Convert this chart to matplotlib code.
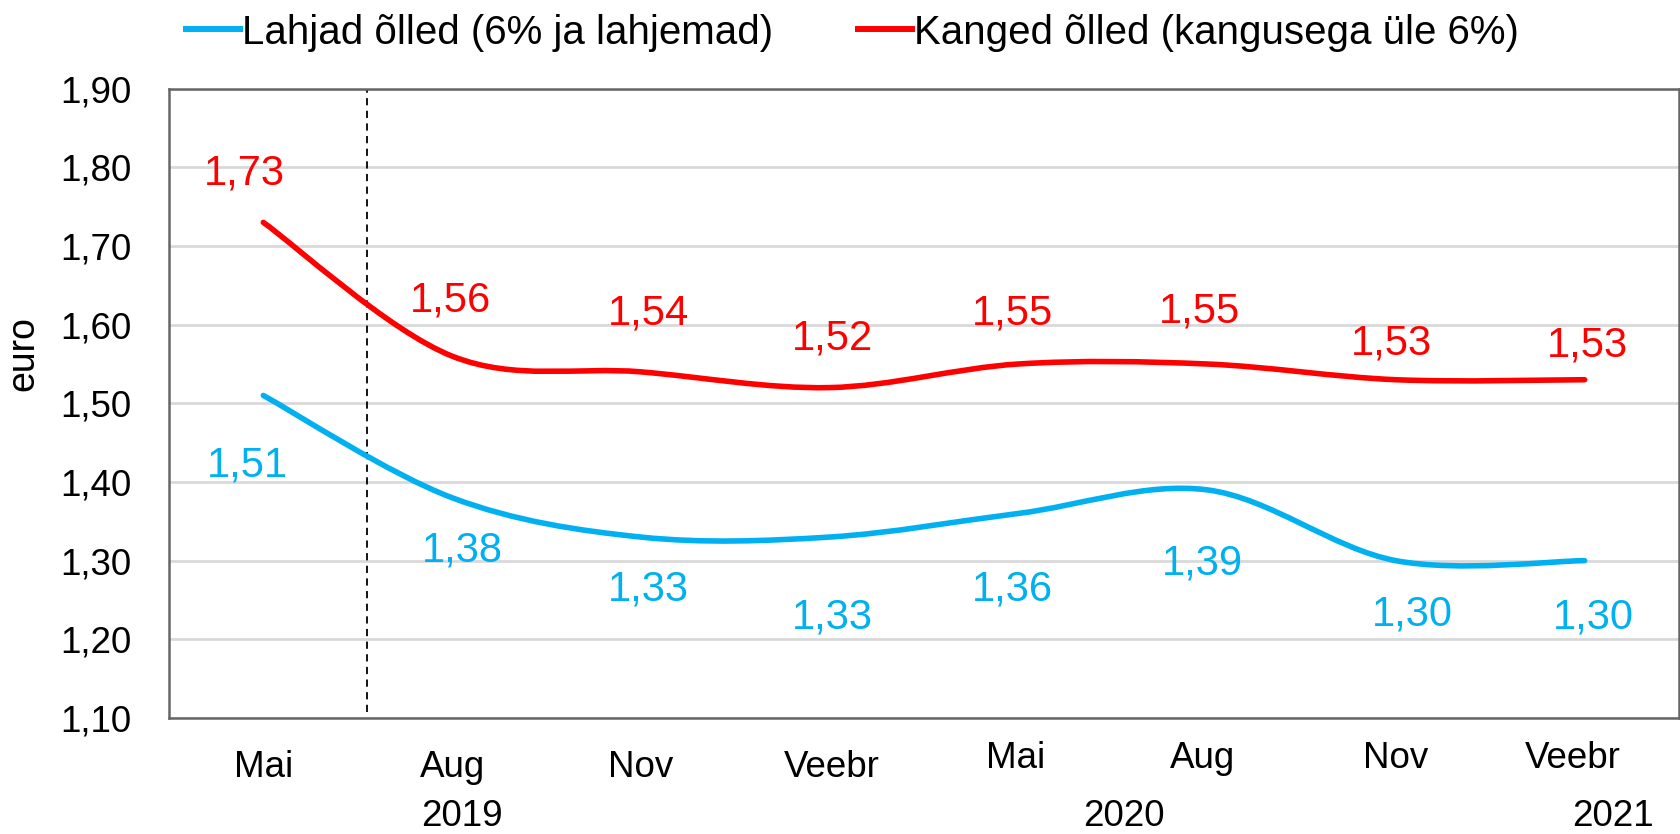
import matplotlib.pyplot as plt
from matplotlib.path import Path
from matplotlib.patches import PathPatch
from matplotlib.lines import Line2D
import matplotlib.transforms as mtransforms
import numpy as np

plt.rcParams['font.family'] = ['Liberation Sans', 'DejaVu Sans']

# data
months = ["Mai", "Aug", "Nov", "Veebr", "Mai", "Aug", "Nov", "Veebr"]
years = ["2019", "2020", "2021"]
year_pos = [1.05, 4.56, 7.15]
lahjad = [1.51, 1.38, 1.33, 1.33, 1.36, 1.39, 1.30, 1.30]
kanged = [1.73, 1.56, 1.54, 1.52, 1.55, 1.55, 1.53, 1.53]
labels_lahjad = ["1,51", "1,38", "1,33", "1,33", "1,36", "1,39", "1,30", "1,30"]
labels_kanged = ["1,73", "1,56", "1,54", "1,52", "1,55", "1,55", "1,53", "1,53"]

BLUE = "#00b0f0"
RED = "#ff0000"

# label offsets in pixels (dx, dy), dy positive = up
off_lahjad = [(-16, -70), (10, -53), (8, -52), (3, -80), (-6, -76), (-5, -74), (17, -54), (9, -57)]
off_kanged = [(-19, 49), (-2, 56), (8, 58), (3, 49), (-6, 50), (-8, 52), (-4, 36), (3, 34)]
month_drop = [59, 59, 59, 59, 50, 50, 50, 50]
month_dx = [0, 0, 0, 2, -3, -5, 0, -12]


def smooth_path(xs, ys):
    # Excel-like smoothed line: cubic bezier through the points
    p = np.column_stack([xs, ys])
    pts = np.vstack([p[0], p, p[-1]])
    verts = [tuple(p[0])]
    codes = [Path.MOVETO]
    for i in range(1, len(pts) - 2):
        c1 = pts[i] + (pts[i + 1] - pts[i - 1]) / 6
        c2 = pts[i + 1] - (pts[i + 2] - pts[i]) / 6
        verts += [tuple(c1), tuple(c2), tuple(pts[i + 1])]
        codes += [Path.CURVE4] * 3
    return Path(verts, codes)


fig = plt.figure(figsize=(16.81, 8.34), dpi=100)
ax = fig.add_axes([0.1005, 0.1391, 0.8983, 0.7546])

x = np.arange(len(months))
for vals, col in [(lahjad, BLUE), (kanged, RED)]:
    patch = PathPatch(smooth_path(x, vals), facecolor="none", edgecolor=col,
                      lw=4, capstyle="round", joinstyle="round", zorder=3)
    ax.add_patch(patch)

for i in range(len(months)):
    ax.annotate(labels_lahjad[i], (x[i], lahjad[i]), xytext=off_lahjad[i],
                textcoords="offset pixels", ha="center", va="center",
                fontsize=30, color=BLUE)
    ax.annotate(labels_kanged[i], (x[i], kanged[i]), xytext=off_kanged[i],
                textcoords="offset pixels", ha="center", va="center",
                fontsize=30, color=RED)

ax.vlines(0.55, 1.108, 1.90, colors="black", lw=1.3, linestyles=(0, (4, 3)), zorder=2)

ax.set_xlim(-0.5, 7.5)
ax.set_ylim(1.10, 1.90)
ax.set_yticks(np.arange(1.10, 1.901, 0.10))
ax.set_yticklabels([f"{v:.2f}".replace(".", ",") for v in np.arange(1.10, 1.901, 0.10)],
                   fontsize=26.5)
ax.tick_params(axis="y", length=0, pad=27)
ax.set_xticks([])
ax.grid(axis="y", color="#d9d9d9", lw=2)
ax.set_axisbelow(True)
for s in ax.spines.values():
    s.set_color("#666666")
    s.set_linewidth(1.8)
fig.text(23 / 1681, 1 - 354 / 834, "euro", rotation=90, ha="center", va="center", fontsize=27)

# month and year category labels
trans = mtransforms.blended_transform_factory(ax.transData, ax.transAxes)
for i, m in enumerate(months):
    ax.annotate(m, (x[i], 0), xycoords=trans, xytext=(month_dx[i], -month_drop[i]),
                textcoords="offset pixels", ha="center", va="baseline", fontsize=26.5)
for yr, pos in zip(years, year_pos):
    ax.annotate(yr, (pos, 0), xycoords=trans, xytext=(0, -108),
                textcoords="offset pixels", ha="center", va="baseline", fontsize=26.5)

handles = [Line2D([], [], color=BLUE, lw=4.3),
           Line2D([], [], color=RED, lw=4.3)]
fig.legend(handles, ["Lahjad õlled (6% ja lahjemad)", "Kanged õlled (kangusega üle 6%)"],
           loc="center", bbox_to_anchor=(0.507, 0.961), ncol=2, frameon=False,
           fontsize=29, handlelength=1.35, handletextpad=0.05, columnspacing=2.1,
           borderpad=0, borderaxespad=0)

fig.savefig("out.png", dpi=100)
